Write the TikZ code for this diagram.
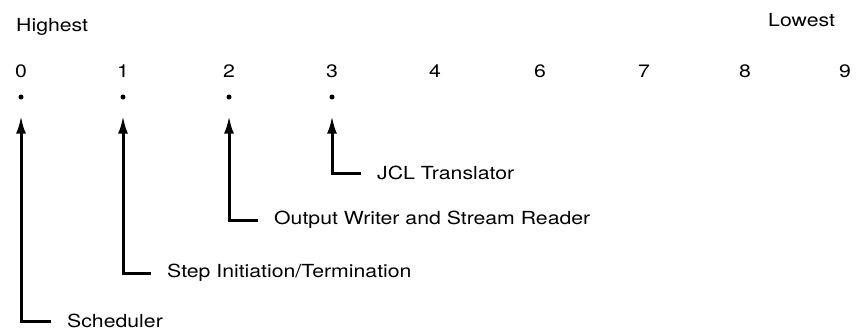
\documentclass[tikz,border=0pt]{standalone}
\usepackage{fontspec}
\setmainfont[FakeStretch=1.18]{TeX Gyre Heros}
\usetikzlibrary{positioning}
\usetikzlibrary{arrows.meta}
\tikzset{lvl/.style={font=\fontsize{18}{22}\selectfont,inner sep=0pt},
	pt/.style={circle,fill,inner sep=0pt,minimum size=5pt},
	lbl/.style={font=\fontsize{18}{22}\selectfont,inner sep=0pt,anchor=west},
	ptr/.style={-{Latex[length=18pt,width=10pt]},line width=3pt,shorten >=16pt,shorten <=16pt}}

\begin{document}
\begin{tikzpicture}[x=1pt,y=-1pt]
	\useasboundingbox (0,0) rectangle (862,330);
	\node[lbl] at (16,27) (high) {Highest};
	\node[lbl] at (768,20) (low) {Lowest};
	
	\node[lvl] at (21,71) (p0) {0};
	\node[lvl] at (123,71) (p1) {1};
	\node[lvl] at (229,71) (p2) {2};
	\node[lvl] at (332,71) (p3) {3};
	\node[lvl] at (435,71) (p4) {4};
	\node[lvl] at (540,71) (p6) {6};
	\node[lvl] at (644,71) (p7) {7};
	\node[lvl] at (745,71) (p8) {8};
	\node[lvl] at (845,71) (p9) {9};
	
	\node[pt] at (21,97) (d0) {};
	\node[pt] at (123,97) (d1) {};
	\node[pt] at (229,97) (d2) {};
	\node[pt] at (332,97) (d3) {};
	
	\node[lbl] at (67,321) (sched) {Scheduler};
	\node[lbl] at (167,273) (step) {Step Initiation/Termination};
	\node[lbl] at (274,220) (writer) {Output Writer and Stream Reader};
	\node[lbl] at (377,173) (jcl) {JCL Translator};
	\draw[ptr] (sched.west) -| (d0);
	\draw[ptr] (step.west) -| (d1);
	\draw[ptr] (writer.west) -| (d2);
	\draw[ptr] (jcl.west) -| (d3);
\end{tikzpicture}
\end{document}
